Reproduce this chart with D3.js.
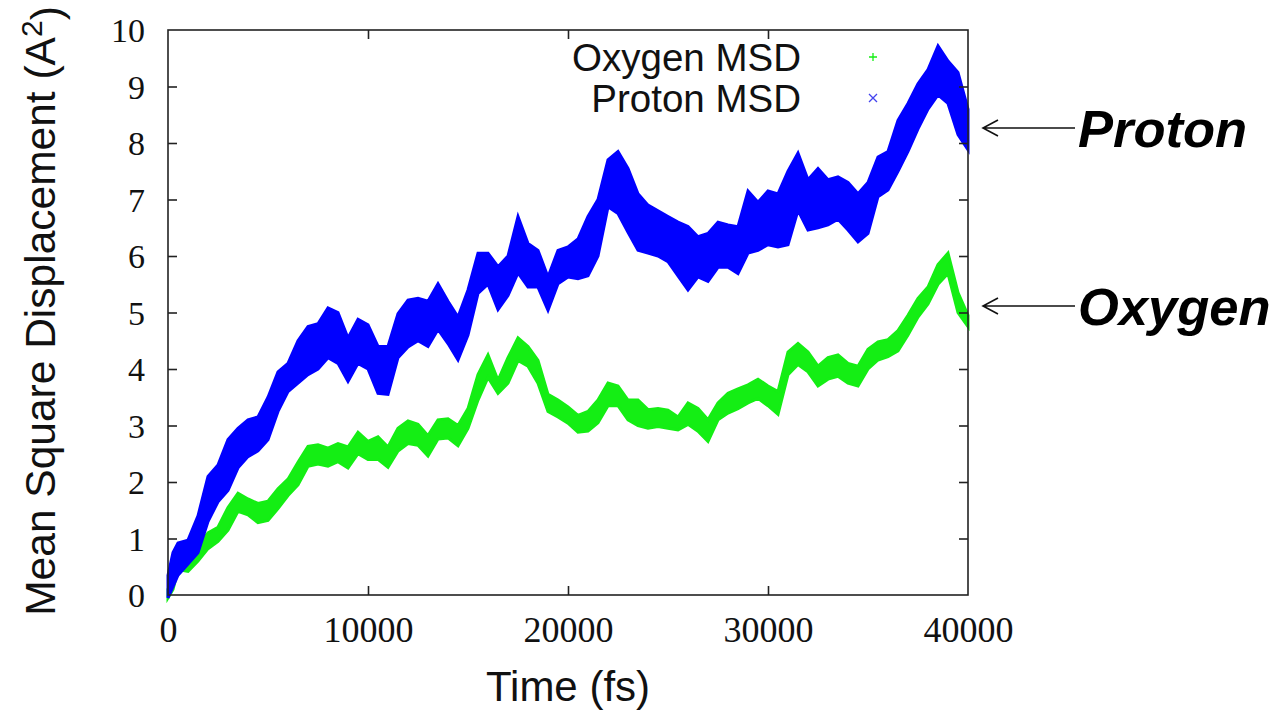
<!DOCTYPE html>
<html>
<head>
<meta charset="utf-8">
<script src="https://cdn.jsdelivr.net/npm/d3@7"></script>
<style>
  html, body { margin: 0; padding: 0; background: #fff; }
  svg { display: block; }
</style>
</head>
<body>
<svg id="chart" width="1280" height="710"></svg>
<script>
// Simulation time samples (fs)
const timeFs = [
  0, 250, 500, 1000, 1500, 2000, 2500, 3000, 3500, 4000,
  4500, 5000, 5500, 6000, 6500, 7000, 7500, 8000, 8500, 9000,
  9500, 10000, 10500, 11000, 11500, 12000, 12500, 13000, 13500, 14000,
  14500, 15000, 15500, 16000, 16500, 17000, 17500, 18000, 18500, 19000,
  19500, 20000, 20500, 21000, 21500, 22000, 22500, 23000, 23500, 24000,
  24500, 25000, 25500, 26000, 26500, 27000, 27500, 28000, 28500, 29000,
  29500, 30000, 30500, 31000, 31500, 32000, 32500, 33000, 33500, 34000,
  34500, 35000, 35500, 36000, 36500, 37000, 37500, 38000, 38500, 39000,
  39500, 40000
];

// Proton MSD: upper / lower extent of the fluctuating signal (A^2)
const protonHigh = [
  0.35, 0.75, 0.92, 0.97, 1.4, 2.1, 2.3, 2.75, 2.95, 3.1,
  3.15, 3.5, 3.95, 4.1, 4.5, 4.75, 4.8, 5.08, 5.0, 4.55,
  4.88, 4.78, 4.4, 4.4, 4.98, 5.22, 5.25, 5.2, 5.51, 5.2,
  4.92, 5.4, 6.05, 6.05, 5.81, 6.0, 6.7, 6.22, 6.1, 5.63,
  6.1, 6.16, 6.3, 6.7, 7.0, 7.7, 7.85, 7.55, 7.1, 6.9,
  6.8, 6.7, 6.6, 6.52, 6.34, 6.4, 6.6, 6.55, 6.52, 7.15,
  6.95, 7.15, 7.1, 7.5, 7.82, 7.35, 7.55, 7.35, 7.4, 7.3,
  7.1, 7.3, 7.75, 7.85, 8.4, 8.7, 9.05, 9.3, 9.72, 9.45,
  9.25, 8.6
];
const protonLow = [
  -0.05, 0.15, 0.35, 0.55, 0.75, 1.3, 1.65, 1.85, 2.25, 2.45,
  2.55, 2.75, 3.25, 3.6, 3.75, 3.9, 4.0, 4.2, 4.1, 3.78,
  4.1, 4.0, 3.57, 3.55, 4.2, 4.39, 4.5, 4.4, 4.7, 4.45,
  4.16, 4.6, 5.34, 5.5, 5.05, 5.3, 5.7, 5.45, 5.45, 5.04,
  5.51, 5.63, 5.6, 5.65, 6.0, 6.87, 6.75, 6.42, 6.1, 6.05,
  6.0, 5.9, 5.65, 5.4, 5.63, 5.55, 5.8, 5.8, 5.69, 6.05,
  6.1, 6.2, 6.16, 6.2, 6.81, 6.46, 6.5, 6.55, 6.65, 6.46,
  6.25, 6.4, 7.05, 7.17, 7.5, 7.85, 8.25, 8.6, 8.85, 8.7,
  8.15, 7.88
];

// Oxygen MSD: upper / lower extent (A^2)
const oxygenHigh = [
  0.1, 0.4, 0.65, 0.62, 0.88, 1.1, 1.2, 1.55, 1.8, 1.7,
  1.62, 1.66, 1.88, 2.05, 2.35, 2.63, 2.66, 2.6, 2.68, 2.62,
  2.88, 2.72, 2.8, 2.62, 2.95, 3.08, 3.02, 2.82, 3.1, 3.12,
  3.0, 3.3, 3.9, 4.25, 3.8, 4.2, 4.55, 4.4, 4.15, 3.55,
  3.45, 3.33, 3.18, 3.25, 3.45, 3.75, 3.7, 3.45, 3.45, 3.28,
  3.3, 3.27, 3.15, 3.4, 3.3, 3.1, 3.4, 3.57, 3.65, 3.72,
  3.82, 3.7, 3.6, 4.3, 4.45, 4.3, 4.05, 4.2, 4.25, 4.1,
  4.05, 4.35, 4.48, 4.52, 4.68, 4.95, 5.25, 5.45, 5.85, 6.05,
  5.35, 4.95
];
const oxygenLow = [
  -0.05, 0.1, 0.45, 0.42, 0.6, 0.82, 0.95, 1.15, 1.48, 1.42,
  1.28, 1.32, 1.53, 1.76, 1.95, 2.28, 2.32, 2.28, 2.36, 2.25,
  2.5, 2.4, 2.4, 2.26, 2.55, 2.68, 2.65, 2.46, 2.76, 2.78,
  2.64, 2.95, 3.45, 3.85, 3.57, 3.75, 4.15, 4.05, 3.75, 3.25,
  3.15, 3.04, 2.88, 2.9, 3.05, 3.35, 3.35, 3.1, 3.0, 2.95,
  2.98, 2.95, 2.92, 3.02, 2.9, 2.72, 3.1, 3.22, 3.3, 3.4,
  3.48, 3.35, 3.2, 3.9, 4.08, 3.95, 3.7, 3.82, 3.87, 3.75,
  3.7, 4.0, 4.16, 4.22, 4.32, 4.6, 4.92, 5.15, 5.5, 5.69,
  5.0, 4.75
];

const xTicks = [0, 10000, 20000, 30000, 40000];
const yTicks = [0, 1, 2, 3, 4, 5, 6, 7, 8, 9, 10];
const legendLabels = ["Oxygen MSD", "Proton MSD"];
const seriesColors = ["#14ee14", "#0000ff"];

const svg = d3.select("#chart");

const plot = { left: 168, right: 968, top: 30, bottom: 595 };
const x = d3.scaleLinear().domain([0, 40000]).range([plot.left, plot.right]);
const y = d3.scaleLinear().domain([0, 10]).range([plot.bottom, plot.top]);

// Data bands (oxygen underneath, proton on top)
function band(high, low, color) {
  const rows = timeFs.map((t, i) => ({ t, hi: high[i], lo: low[i] }));
  const area = d3.area()
    .x(d => x(d.t))
    .y0(d => y(d.lo))
    .y1(d => y(d.hi))
    .curve(d3.curveLinear);
  svg.append("path")
    .datum(rows)
    .attr("d", area)
    .attr("fill", color)
    .attr("stroke", color)
    .attr("stroke-width", 3)
    .attr("stroke-linejoin", "miter");
}
band(oxygenHigh, oxygenLow, seriesColors[0]);
band(protonHigh, protonLow, seriesColors[1]);

// Frame
svg.append("rect")
  .attr("x", plot.left).attr("y", plot.top)
  .attr("width", plot.right - plot.left).attr("height", plot.bottom - plot.top)
  .attr("fill", "none").attr("stroke", "#222").attr("stroke-width", 1.6);

// Axes with inward ticks (mirrored on top and right)
const tickLen = 9;
const axisFont = "'Liberation Serif', 'Times New Roman', serif";

const xb = svg.append("g").attr("transform", `translate(0,${plot.bottom})`)
  .call(d3.axisBottom(x).tickValues(xTicks).tickSizeInner(-tickLen).tickSizeOuter(0).tickPadding(23).tickFormat(d3.format("d")));
const xt = svg.append("g").attr("transform", `translate(0,${plot.top})`)
  .call(d3.axisTop(x).tickValues(xTicks).tickSizeInner(-tickLen).tickSizeOuter(0).tickFormat(""));
const yl = svg.append("g").attr("transform", `translate(${plot.left},0)`)
  .call(d3.axisLeft(y).tickValues(yTicks).tickSizeInner(-tickLen).tickSizeOuter(0).tickPadding(23).tickFormat(d3.format("d")));
const yr = svg.append("g").attr("transform", `translate(${plot.right},0)`)
  .call(d3.axisRight(y).tickValues(yTicks).tickSizeInner(-tickLen).tickSizeOuter(0).tickFormat(""));

[xb, xt, yl, yr].forEach(g => {
  g.select(".domain").remove();
  g.selectAll(".tick line").attr("stroke", "#222").attr("stroke-width", 1.6);
  g.selectAll(".tick text").attr("fill", "#111").style("font-family", axisFont).style("font-size", "34px");
});
xb.selectAll(".tick text").style("font-size", "36px");
// Remove tick marks that coincide with the frame corners
xb.selectAll(".tick").filter(d => d === 0 || d === 40000).select("line").remove();
xt.selectAll(".tick").filter(d => d === 0 || d === 40000).select("line").remove();
yl.selectAll(".tick").filter(d => d === 0 || d === 10).select("line").remove();
yr.selectAll(".tick").filter(d => d === 0 || d === 10).select("line").remove();
xb.selectAll(".tick text").attr("dy", "0.68em");
yl.selectAll(".tick text").attr("dy", "0.34em");

// Axis titles
const sans = "'Liberation Sans', Arial, Helvetica, sans-serif";
svg.append("text")
  .attr("x", 568).attr("y", 701)
  .attr("text-anchor", "middle")
  .style("font-family", sans).style("font-size", "42px").attr("fill", "#111")
  .text("Time (fs)");

const yTitle = svg.append("text")
  .attr("transform", "translate(55,311) rotate(-90)")
  .attr("text-anchor", "middle")
  .style("font-family", sans).style("font-size", "42.5px").attr("fill", "#111");
yTitle.append("tspan").text("Mean Square Displacement (A");
yTitle.append("tspan").attr("dy", "-0.45em").style("font-size", "30px").text("2");
yTitle.append("tspan").attr("dy", "0.45em").text(")");

// Legend
const legendY = [57, 98];
legendLabels.forEach((lbl, i) => {
  svg.append("text")
    .attr("x", 801).attr("y", legendY[i])
    .attr("dy", "0.36em")
    .attr("text-anchor", "end")
    .style("font-family", sans).style("font-size", "38.5px").attr("fill", "#111")
    .text(lbl);
});
const mk = 4;
svg.append("path")
  .attr("d", `M${873 - mk},${legendY[0]}H${873 + mk}M873,${legendY[0] - mk}V${legendY[0] + mk}`)
  .attr("stroke", seriesColors[0]).attr("stroke-width", 1.3).attr("fill", "none");
svg.append("path")
  .attr("d", `M${873 - mk},${legendY[1] - mk}L${873 + mk},${legendY[1] + mk}M${873 - mk},${legendY[1] + mk}L${873 + mk},${legendY[1] - mk}`)
  .attr("stroke", "#4444ee").attr("stroke-width", 1.3).attr("fill", "none");

// Annotations with open arrows
const notes = [
  { label: "Proton", y: 128 },
  { label: "Oxygen", y: 306 }
];
notes.forEach(n => {
  svg.append("path")
    .attr("d", `M1075,${n.y}H983M998,${n.y - 8}L983,${n.y}L998,${n.y + 8}`)
    .attr("stroke", "#111").attr("stroke-width", 1.6).attr("fill", "none");
  svg.append("text")
    .attr("x", 1078).attr("y", n.y)
    .attr("dy", "0.36em")
    .style("font-family", sans).style("font-size", "52.5px")
    .style("font-weight", "bold").style("font-style", "italic")
    .attr("fill", "#000")
    .text(n.label);
});
</script>
</body>
</html>
